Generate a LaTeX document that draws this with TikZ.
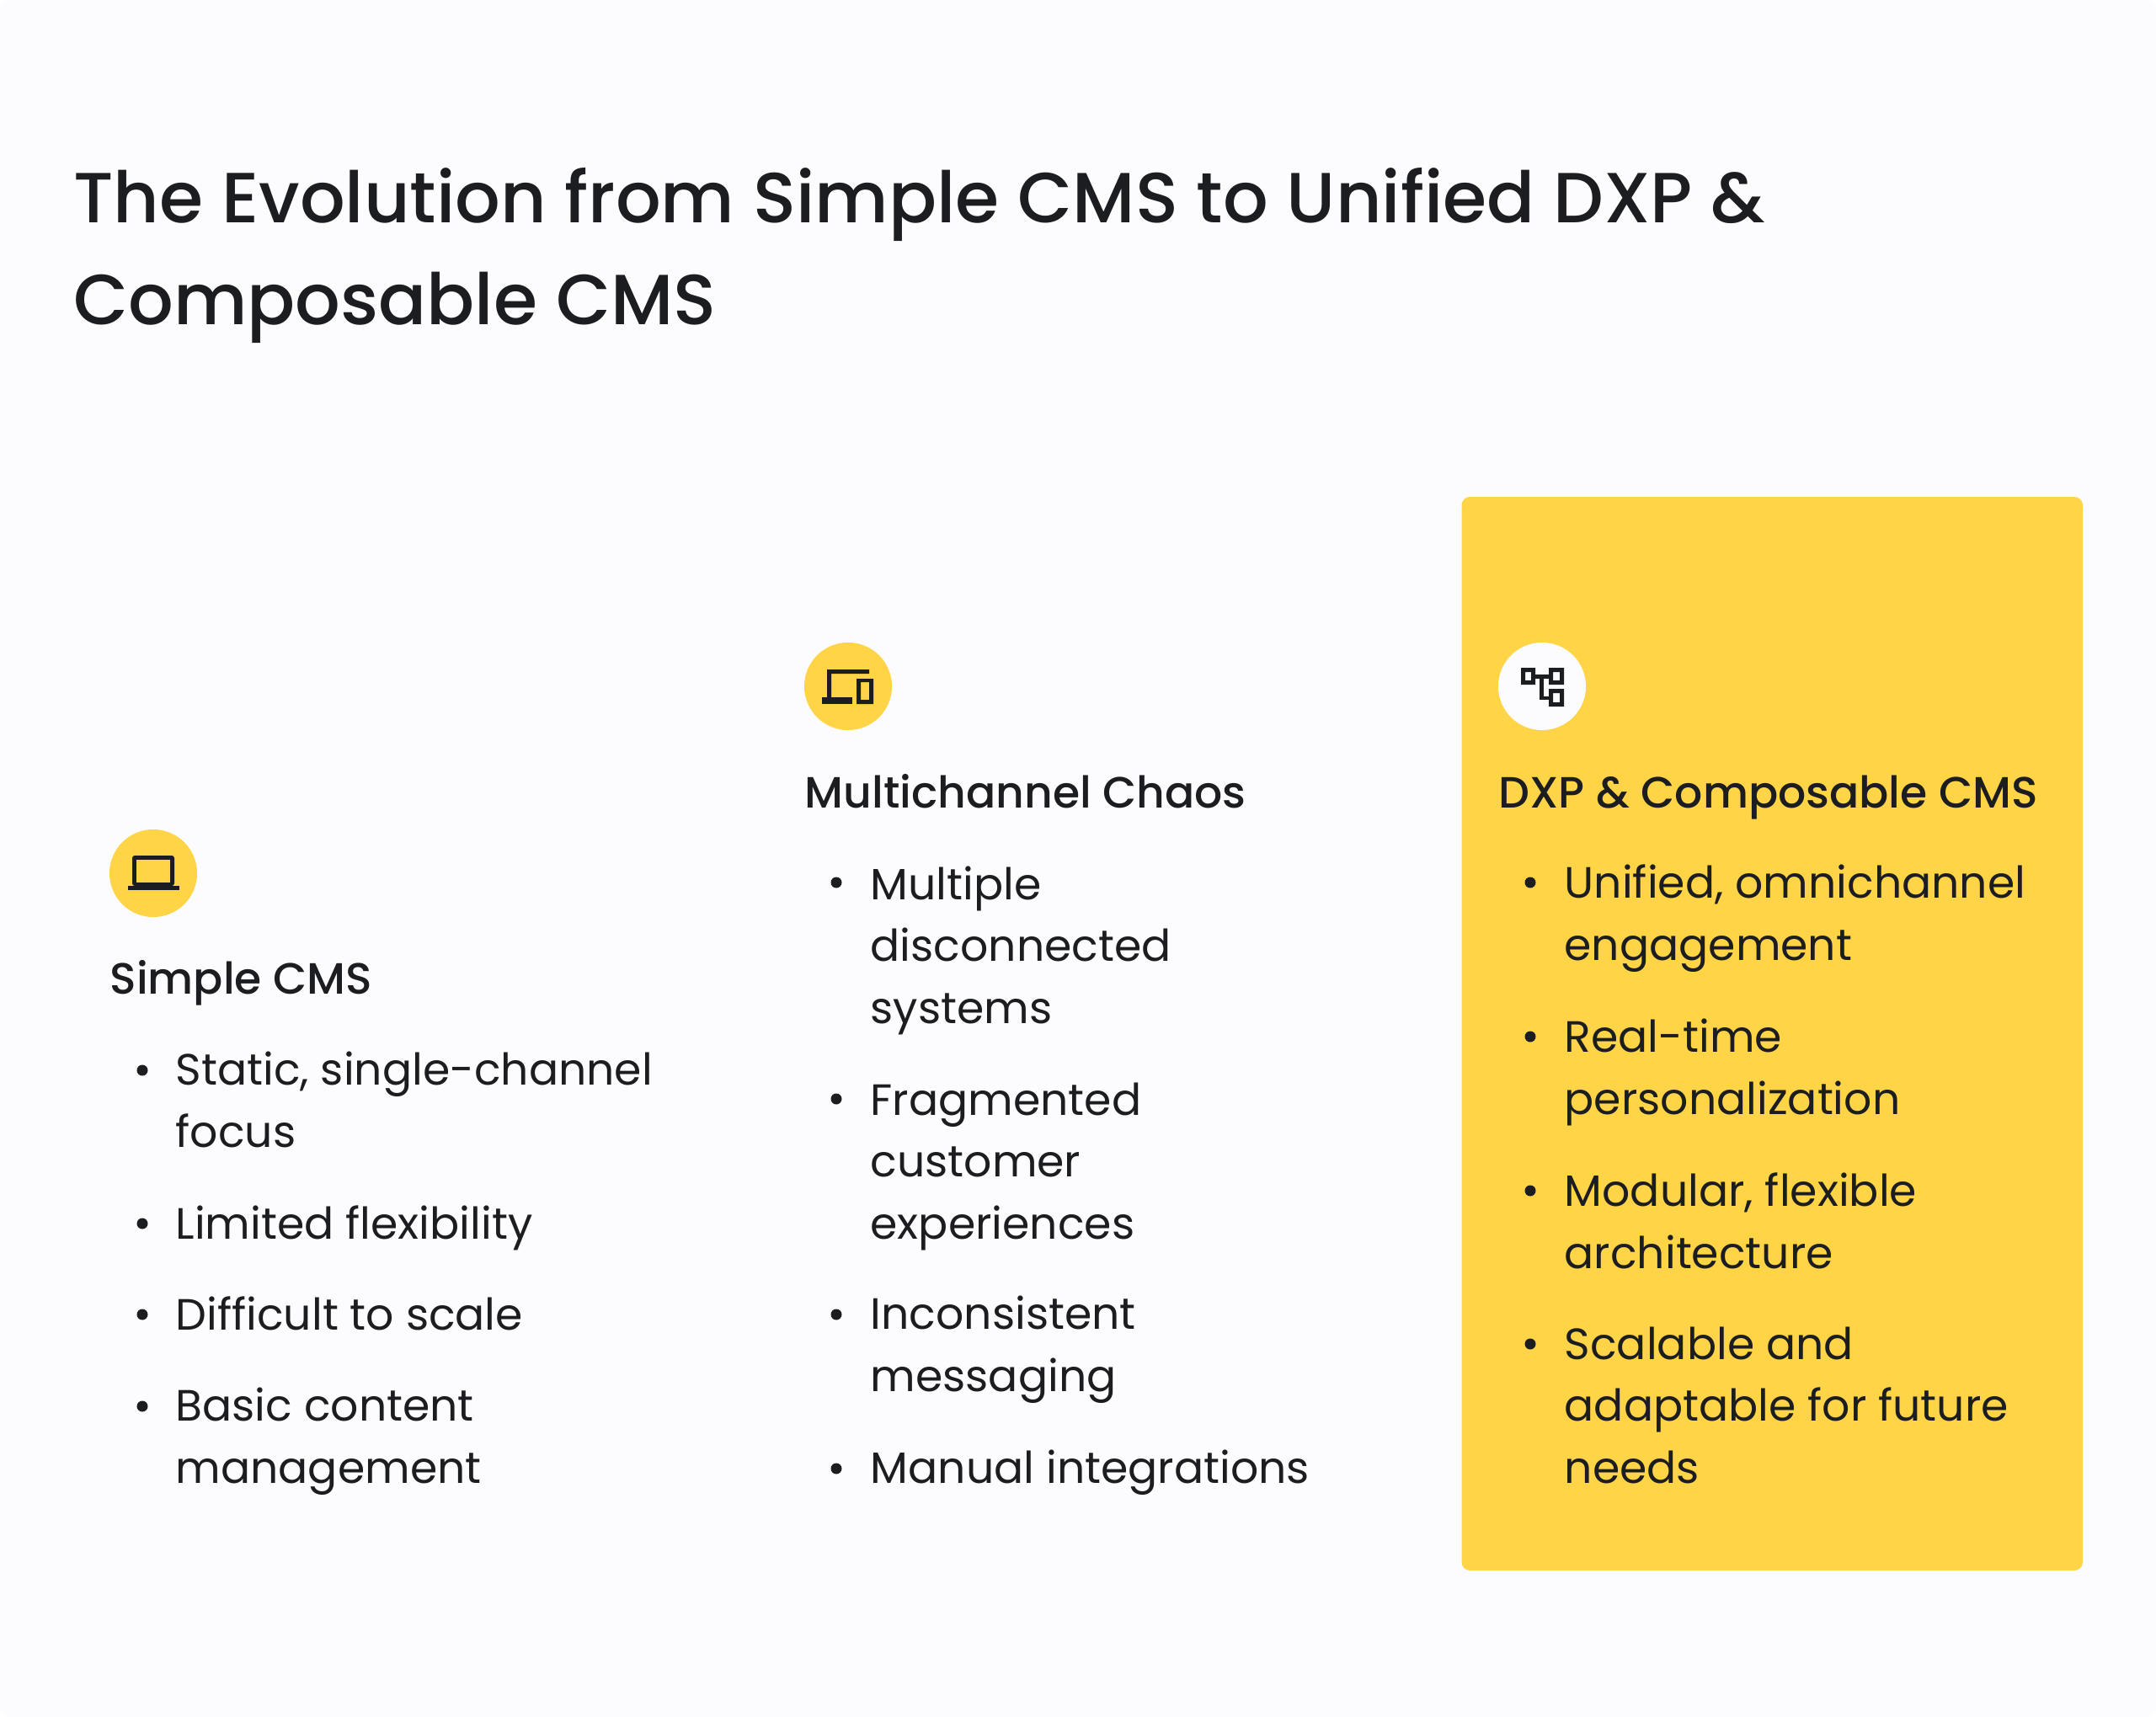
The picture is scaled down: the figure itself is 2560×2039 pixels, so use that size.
\documentclass[tikz,border=0pt]{standalone}
\usepackage{fontspec}
\setmainfont{Poppins}
\newfontfamily\mediumfont{Poppins Medium}
\usepackage{tikz}
\definecolor{pagebg}{HTML}{FCFCFF}
\definecolor{cardyellow}{HTML}{FFD447}
\definecolor{inkdark}{HTML}{1C1D20}

\begin{document}
\begin{tikzpicture}[x=0.01cm,y=-0.01cm]
\tikzset{title/.style = {anchor=base west,inner sep=0pt,align=left,text=inkdark,font=\mediumfont\fontsize{23.97}{34.4}\selectfont}}
\tikzset{heading/.style = {anchor=base west,inner sep=0pt,text=inkdark,font=\mediumfont\fontsize{14.8}{21}\selectfont}}
\tikzset{item/.style = {anchor=base west,inner sep=0pt,align=left,text=inkdark,font=\fontsize{14.8}{20.9}\selectfont}}
\tikzset{dotmark/.style = {shape=circle,fill=inkdark,inner sep=0pt,minimum size=0.13cm}}
\tikzset{badge/.style = {shape=circle,inner sep=0pt,minimum size=1.04cm}}
\tikzset{icon/.style = {fill=inkdark,even odd rule}}
\useasboundingbox (0,0) rectangle (2560,2039);
\fill[white] (0,0) rectangle (2560,2039);
\fill[pagebg,rounded corners=0.12cm] (0,0) rectangle (2560,2039);
\fill[cardyellow,rounded corners=0.1cm] (1735.5,590) rectangle (2473,1865);

% title
\node[title] (heading) at (86.5,385.5) {The Evolution from Simple CMS to Unified DXP \&\\Composable CMS};

% badges
\node[badge,fill=cardyellow] (simplebadge) at (182,1037) {};
\node[badge,fill=cardyellow] (chaosbadge) at (1007,815) {};
\node[badge,fill=pagebg] (dxpbadge) at (1831,815) {};

% icons
\path[icon,rounded corners=0.03cm] (157,1052) -- (157,1016) -- (207,1016) -- (207,1052) -- cycle;
\fill[cardyellow] (162,1021) rectangle (202,1048);
\fill[inkdark] (152,1052) rectangle (213,1057);

\fill[inkdark] (982,828) -- (982,795) -- (1032,795) -- (1032,800) -- (987,800) -- (987,828) -- cycle;
\fill[inkdark] (976,828) rectangle (1012,836);
\path[icon] (1017,806) rectangle (1037,836) (1022,810) rectangle (1032,831);

\path[icon] (1806,793) rectangle (1823,813) (1811,798) rectangle (1818,808);
\path[icon] (1839,793) rectangle (1857,813) (1844,798) rectangle (1852,808);
\path[icon] (1839,818) rectangle (1857,839) (1844,823) rectangle (1852,834);
\fill[inkdark] (1823,800.5) rectangle (1839,805.5);
\fill[inkdark] (1828,800.5) rectangle (1833,830.5);
\fill[inkdark] (1828,826.5) rectangle (1839,830.5);

% simple cms
\node[heading] (simplehead) at (130,1180) {Simple CMS};
\node[dotmark] (s1) at (169,1271) {};
\node[dotmark] (s2) at (169,1453) {};
\node[dotmark] (s3) at (169,1561) {};
\node[dotmark] (s4) at (169,1670) {};
\node[item] (simpleone) at (208,1362) {Static, single-channel\\focus};
\node[item] (simpletwo) at (208,1471) {Limited flexibility};
\node[item] (simplethree) at (208,1579) {Difficult to scale};
\node[item] (simplefour) at (208,1761) {Basic content\\management};

% multichannel chaos
\node[heading] (chaoshead) at (955,959) {Multichannel Chaos};
\node[dotmark] (c1) at (993,1048) {};
\node[dotmark] (c2) at (993,1305) {};
\node[dotmark] (c3) at (993,1561) {};
\node[dotmark] (c4) at (993,1744) {};
\node[item] (chaosone) at (1033,1215) {Multiple\\disconnected\\systems};
\node[item] (chaostwo) at (1033,1471) {Fragmented\\customer\\experiences};
\node[item] (chaosthree) at (1033,1652) {Inconsistent\\messaging};
\node[item] (chaosfour) at (1033,1761) {Manual integrations};

% dxp and composable
\node[heading] (dxphead) at (1779,959) {DXP \& Composable CMS};
\node[dotmark] (d1) at (1817,1048) {};
\node[dotmark] (d2) at (1817,1231) {};
\node[dotmark] (d3) at (1817,1414) {};
\node[dotmark] (d4) at (1817,1596) {};
\node[item] (dxpone) at (1857,1140) {Unified, omnichannel\\engagement};
\node[item] (dxptwo) at (1857,1323) {Real-time\\personalization};
\node[item] (dxpthree) at (1857,1506) {Modular, flexible\\architecture};
\node[item] (dxpfour) at (1857,1761) {Scalable and\\adaptable for future\\needs};

\end{tikzpicture}
\end{document}
